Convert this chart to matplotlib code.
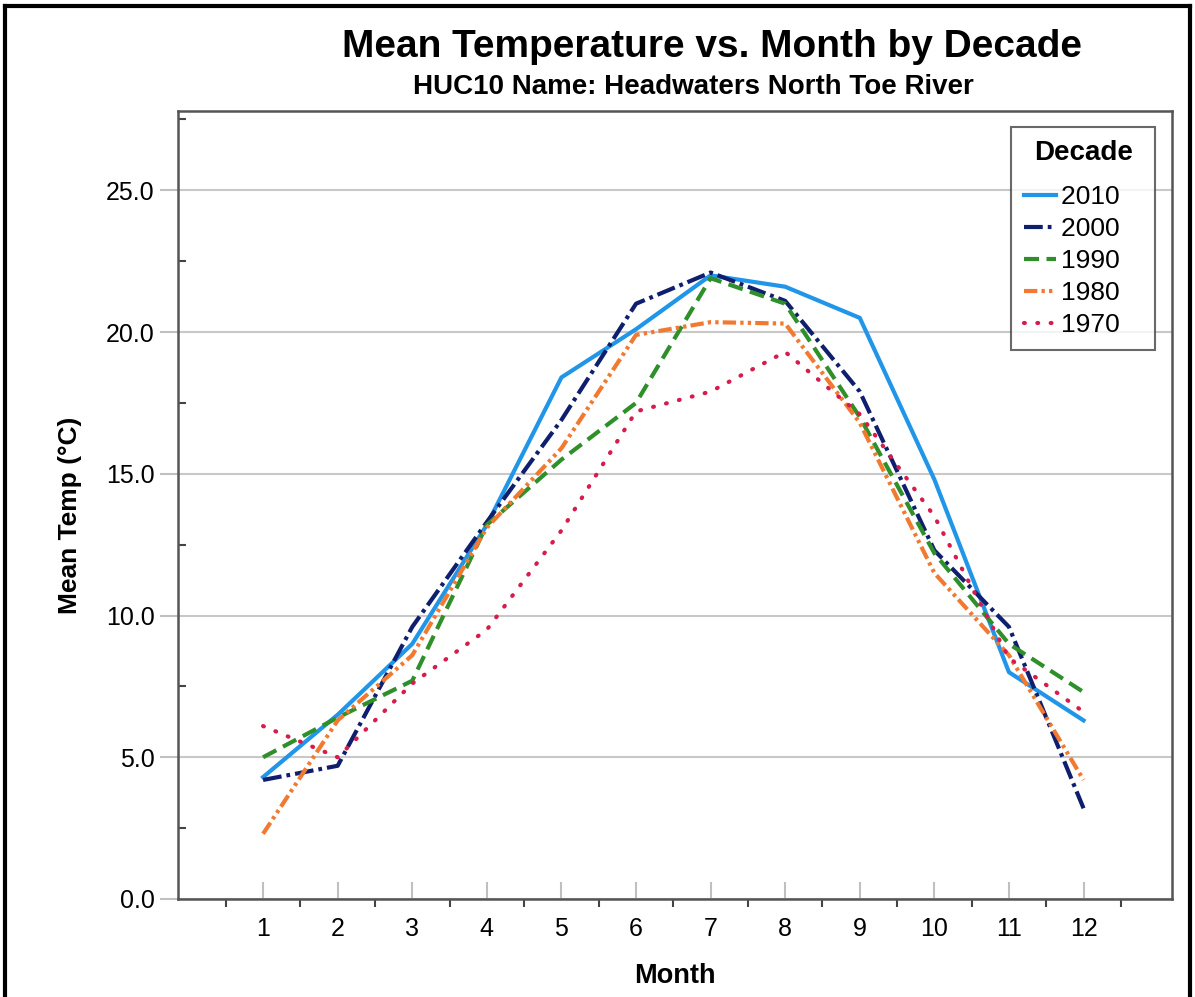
import matplotlib
matplotlib.use("Agg")
from matplotlib import pyplot as plt
from matplotlib.lines import Line2D
import numpy as np

plt.rcParams['font.family'] = ['Liberation Sans', 'DejaVu Sans']

# data
months = list(range(1, 13))
decades = ['2010', '2000', '1990', '1980', '1970']
t2010 = [4.3, 6.5, 9.0, 13.2, 18.4, 20.1, 22.0, 21.6, 20.5, 14.8, 8.0, 6.3]
t2000 = [4.2, 4.7, 9.6, 13.3, 16.9, 21.0, 22.1, 21.1, 17.9, 12.3, 9.6, 3.2]
t1990 = [5.0, 6.4, 7.7, 13.2, 15.5, 17.5, 21.9, 21.0, 17.0, 12.2, 9.0, 7.3]
t1980 = [2.3, 6.3, 8.6, 13.1, 15.9, 19.9, 20.35, 20.3, 16.8, 11.5, 8.6, 4.2]
t1970 = [6.1, 5.0, 7.6, 9.5, 13.0, 17.2, 17.9, 19.3, 17.1, 13.5, 8.5, 6.6]

series = [t2010, t2000, t1990, t1980, t1970]
colors = ['#2196e8', '#0f1f6e', '#2f8f2a', '#f27a30', '#d81b4d']
dashes = [None, (4.5, 1.2, 0.9, 1.2), (3.6, 1.8), (3.2, 1.0, 0.8, 1.0, 0.8, 1.0), (0.2, 3.0)]

fig = plt.figure(figsize=(11.95, 9.97), dpi=100)
ax = fig.add_axes([0.149, 0.0983, 0.832, 0.7904])

for vals, c, d, lab in zip(series, colors, dashes, decades):
    line, = ax.plot(months, vals, color=c, lw=3.0, label=lab + '   ')
    if d is not None:
        line.set_dashes(d)
    if lab == '1970':
        line.set_dash_capstyle('round')

ax.set_xlim(-0.14, 13.19)
ax.set_ylim(0, 27.8)

ax.set_xticks(months)
ax.set_xticklabels([str(m) for m in months], fontsize=18)
ax.set_xticks(np.arange(0.5, 13.0, 1.0), minor=True)
ax.tick_params(axis='x', which='major', direction='in', length=12, width=1.5,
               color='#c0c0c0', pad=13)
ax.tick_params(axis='x', which='minor', direction='out', length=6, width=1.5,
               color='#444444')

yt = np.arange(0, 26, 5)
ax.set_yticks(yt)
ax.set_yticklabels(['%.1f' % v for v in yt], fontsize=18)
ax.set_yticks(np.arange(2.5, 28, 5), minor=True)
ax.tick_params(axis='y', which='major', direction='out', length=13, width=1.5,
               color='#c0c0c0', pad=4)
ax.tick_params(axis='y', which='minor', direction='in', length=6, width=1.5,
               color='#444444')

ax.yaxis.grid(True, which='major', color='#c8c8c8', lw=1.5)
ax.set_axisbelow(True)

for s in ax.spines.values():
    s.set_color('#555555')
    s.set_linewidth(1.8)

ax.set_xlabel('Month', fontsize=19.5, fontweight='bold', labelpad=16)
ax.set_ylabel('Mean Temp (\u00b0C)', fontsize=19, fontweight='bold')
ax.yaxis.set_label_coords(-0.0966, 0.487)

leg = ax.legend(title='Decade', loc='upper right', bbox_to_anchor=(0.983, 0.98),
                fontsize=19, title_fontproperties={'size': 20, 'weight': 'bold'},
                frameon=True, fancybox=False, handlelength=1.2, handletextpad=0.2,
                labelspacing=0.3, borderpad=0.5, borderaxespad=0)
leg._legend_box.sep = 14
leg.get_frame().set_edgecolor('#444444')
leg.get_frame().set_linewidth(1.5)

fig.text(0.596, 0.953, 'Mean Temperature vs. Month by Decade', ha='center',
         va='center', fontsize=28, fontweight='bold')
fig.text(0.58, 0.913, 'HUC10 Name: Headwaters North Toe River', ha='center',
         va='center', fontsize=20, fontweight='bold')

# outer border of the original picture
for xs, ys in [([0.004, 0.004], [0.0, 0.994]), ([0.004, 0.996], [0.994, 0.994]),
               ([0.996, 0.996], [0.994, 0.0])]:
    fig.add_artist(Line2D(xs, ys, color='black', lw=3, transform=fig.transFigure))

plt.savefig('out.png', dpi=100)
